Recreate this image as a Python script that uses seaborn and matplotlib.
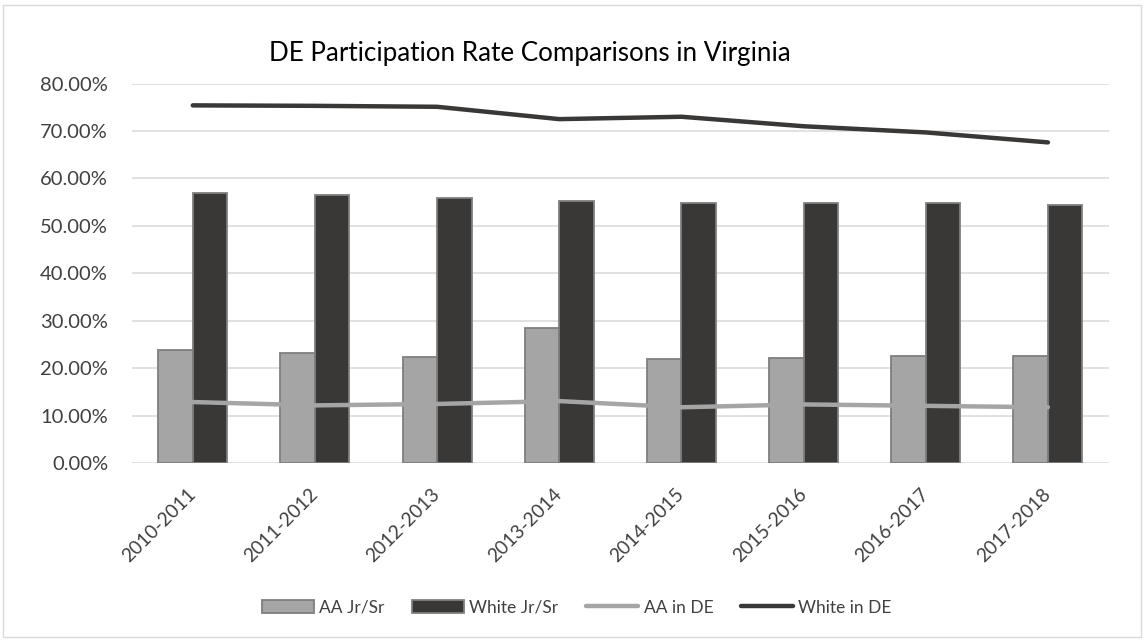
import numpy as np
import pandas as pd
import seaborn as sns
import matplotlib.pyplot as plt
from matplotlib.patches import Patch, Rectangle
from matplotlib.lines import Line2D
from matplotlib.ticker import PercentFormatter

years = ["2010-2011", "2011-2012", "2012-2013", "2013-2014",
         "2014-2015", "2015-2016", "2016-2017", "2017-2018"]
aa_jrsr = [0.239, 0.232, 0.223, 0.284, 0.220, 0.222, 0.225, 0.225]
white_jrsr = [0.570, 0.565, 0.559, 0.553, 0.549, 0.549, 0.548, 0.545]
aa_de = [0.129, 0.122, 0.125, 0.131, 0.118, 0.124, 0.121, 0.118]
white_de = [0.754, 0.753, 0.751, 0.725, 0.730, 0.710, 0.697, 0.676]

light = "#A5A5A5"
dark = "#3A3836"
edge = "#7F7F7F"

sns.set_theme(style="white")
plt.rcParams["font.family"] = ["Lato", "DejaVu Sans"]
plt.rcParams["text.color"] = "#404040"

bars = pd.DataFrame({
    "year": years * 2,
    "value": aa_jrsr + white_jrsr,
    "series": ["AA Jr/Sr"] * len(years) + ["White Jr/Sr"] * len(years),
})
lines = pd.DataFrame({
    "year": years * 2,
    "value": aa_de + white_de,
    "series": ["AA in DE"] * len(years) + ["White in DE"] * len(years),
})

fig = plt.figure(figsize=(11.44, 6.43), dpi=100)
ax = fig.add_axes([0.1151, 0.2795, 0.8543, 0.5906])

sns.barplot(data=bars, x="year", y="value", hue="series",
            palette=[light, dark], width=0.565, gap=0,
            edgecolor=edge, linewidth=1.3, legend=False, ax=ax, zorder=2)
sns.pointplot(data=lines, x="year", y="value", hue="series",
              palette=[light, dark], markers="", linestyles="-",
              linewidth=3.2, errorbar=None, legend=False, ax=ax)
for ln in ax.lines:
    ln.set_zorder(3)
    ln.set_solid_capstyle("round")

ax.set_xlim(-0.5, len(years) - 0.5)
ax.set_ylim(0, 0.8)
ax.set_yticks(np.arange(0, 0.81, 0.1))
ax.yaxis.set_major_formatter(PercentFormatter(1, decimals=2))
ax.grid(axis="y", color="#D9D9D9", lw=1.1, zorder=0)
ax.set_axisbelow(True)
for s in ax.spines.values():
    s.set_visible(False)
ax.set_xlabel("")
ax.set_ylabel("")
ax.tick_params(axis="y", length=0, pad=17, labelsize=14.5, labelcolor="#404040")
ax.tick_params(axis="x", length=0, pad=20, labelsize=13.8, labelcolor="#404040")
ax.set_xticks(range(len(years)))
ax.set_xticklabels(years, rotation=45, ha="right", va="center",
                   rotation_mode="anchor")

fig.text(0.4635, 1 - 61 / 643, "DE Participation Rate Comparisons in Virginia",
         ha="center", va="baseline", fontsize=18.7, color="#000000")

handles = [
    Patch(facecolor=light, edgecolor=edge, lw=1.3, label="AA Jr/Sr"),
    Patch(facecolor=dark, edgecolor=edge, lw=1.3, label="White Jr/Sr"),
    Line2D([], [], color=light, lw=3.2, label="AA in DE"),
    Line2D([], [], color=dark, lw=3.2, label="White in DE"),
]
fig.legend(handles=handles, loc="center", bbox_to_anchor=(0.504, 0.055),
           ncol=4, frameon=False, fontsize=12.5, handlelength=3.0,
           handleheight=0.75, handletextpad=0.3, columnspacing=1.6)

fig.add_artist(Rectangle((0.0022, 0.0093), 0.9956, 0.983,
                         transform=fig.transFigure, fill=False,
                         ec="#D9D9D9", lw=1.0))

fig.savefig("out.png", dpi=100, facecolor="white")
